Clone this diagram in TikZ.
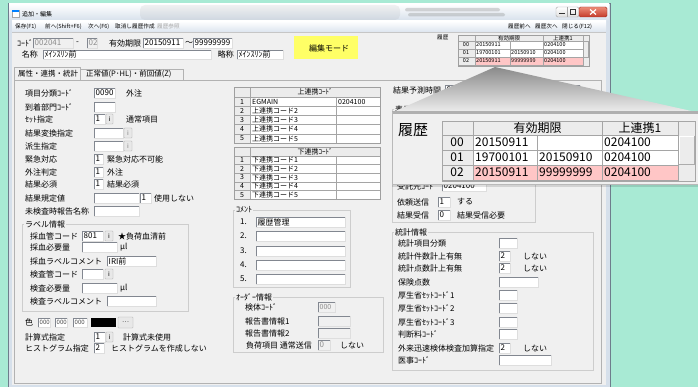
\documentclass[tikz,border=0pt]{standalone}
\usepackage{fontspec}
\setmainfont{Noto Sans CJK JP}

\definecolor{uiMint}{RGB}{168,234,212}
\definecolor{uiForm}{RGB}{240,240,240}
\definecolor{uiFrame}{RGB}{214,224,235}
\definecolor{uiFrameLine}{RGB}{110,125,140}
\definecolor{uiFDark}{RGB}{130,135,144}
\definecolor{uiFLight}{RGB}{222,222,222}
\definecolor{uiGrp}{RGB}{205,205,205}
\definecolor{uiGridC}{RGB}{165,165,165}
\definecolor{uiHdr}{RGB}{236,236,236}
\definecolor{uiPink}{RGB}{255,198,198}
\definecolor{uiYel}{RGB}{255,255,102}
\definecolor{uiDis}{RGB}{140,140,140}
\definecolor{uiBtn}{RGB}{232,232,232}
\definecolor{uiCloseTop}{RGB}{236,140,120}
\definecolor{uiCloseBot}{RGB}{196,58,42}
\definecolor{uiBeamTop}{RGB}{138,138,138}
\definecolor{uiBeamBot}{RGB}{238,238,238}

\newcount\uicnt
\tikzset{
  lbl/.style={anchor=west, inner sep=0pt, font=\fontsize{8}{9}\selectfont},
  lble/.style={anchor=east, inner sep=0pt, font=\fontsize{8}{9}\selectfont},
  menut/.style={anchor=west, inner sep=0pt, font=\fontsize{5.6}{6}\selectfont},
  ftxt/.style={anchor=west, inner sep=0pt, font=\fontsize{8}{9}\selectfont},
  ttxt/.style={inner sep=0pt, font=\fontsize{7}{8}\selectfont},
  stxt/.style={inner sep=0pt, font=\fontsize{5.5}{6}\selectfont},
  btxt/.style={inner sep=0pt, font=\fontsize{12}{13}\selectfont},
  fdark/.style={draw=uiFDark, line width=0.6pt},
  flight/.style={draw=uiFLight, line width=0.6pt},
  btn/.style={draw=gray!65, fill=uiBtn, inner sep=0pt, rounded corners=0.6pt, font=\fontsize{6.5}{7}\selectfont},
  grp/.style={draw=uiGrp, line width=0.6pt},
  grptitle/.style={anchor=west, fill=uiForm, inner xsep=1pt, inner ysep=0pt, font=\fontsize{8}{9}\selectfont},
  gridl/.style={draw=uiGridC, line width=0.5pt},
}
\newcommand\uiL[4][lbl]{\global\advance\uicnt by 1\relax
  \node[#1] (n\the\uicnt) at (#2,#3) {#4};}
\newcommand\uiF[6][]{%
  \fill[white] (#2,#3) rectangle (#4,#5);
  \draw[fdark] (#2,#5) -- (#2,#3) -- (#4,#3);
  \draw[flight] (#4,#3) -- (#4,#5) -- (#2,#5);
  \global\advance\uicnt by 1\relax
  \node[ftxt,#1] (n\the\uicnt) at ({#2+1.5},{(#3+#5)/2}) {#6};}
\newcommand\uiD[6][]{%
  \fill[uiForm] (#2,#3) rectangle (#4,#5);
  \draw[fdark] (#2,#5) -- (#2,#3) -- (#4,#3);
  \draw[flight] (#4,#3) -- (#4,#5) -- (#2,#5);
  \global\advance\uicnt by 1\relax
  \node[ftxt,text=uiDis,#1] (n\the\uicnt) at ({#2+1.5},{(#3+#5)/2}) {#6};}
\newcommand\uiB[5]{\global\advance\uicnt by 1\relax
  \node[btn, minimum width=#3-#1, minimum height=#4-#2] (n\the\uicnt) at ({(#1+#3)/2},{(#2+#4)/2}) {#5};}
\newcommand\uiG[5]{%
  \draw[grp] (#1,#2) rectangle (#3,#4);
  \global\advance\uicnt by 1\relax
  \node[grptitle] (n\the\uicnt) at ({#1+2},#2) {#5};}

\begin{document}
\begin{tikzpicture}[x=1pt,y=-1pt]
\useasboundingbox (0,0) rectangle (698,387);
\clip (0,0) rectangle (698,387);
\fill[uiMint] (0,0) rectangle (698,387);

% window frame
\fill[uiFrame] (8,3) rectangle (610,389);
\draw[uiFrameLine, line width=0.8pt] (8,3) rectangle (610,389);
\shade[top color=white, bottom color=uiFrame] (9,4) rectangle (609,21);
\fill[gray, opacity=0.10, rounded corners=5pt] (140,5) rectangle (400,20);
\fill[gray, opacity=0.30, rounded corners=2pt] (405,8) rectangle (500,11.5);
\fill[gray, opacity=0.30, rounded corners=2pt] (408,13) rectangle (505,16.5);
% icon + title
\fill[white, draw=gray!70, line width=0.4pt] (12,10) rectangle (19,17);
\fill[blue!50!cyan] (12,10) rectangle (19,12);
\node[anchor=west, inner sep=0pt, font=\fontsize{6}{6}\selectfont] (title) at (22,14) {追加・編集};
% window buttons
\shade[top color=white, bottom color=gray!25, draw=gray!70, line width=0.4pt, rounded corners=1.5pt] (556,7) rectangle (579,17);
\draw[gray!70, line width=0.4pt] (567.5,7) -- (567.5,17);
\draw[gray!40!black, line width=1pt] (559,14) -- (565,14);
\draw[gray!40!black, line width=0.6pt] (570,9.5) rectangle (575.5,14.5);
\shade[top color=uiCloseTop, bottom color=uiCloseBot, draw=uiCloseBot!80!black, line width=0.4pt, rounded corners=1.5pt] (579,7) rectangle (607,17);
\draw[white, line width=1.2pt] (590,9.5) -- (596,14.5) (590,14.5) -- (596,9.5);

% menu bar
\shade[top color=white, bottom color={rgb,255:red,221;green,229;blue,239}] (12,21) rectangle (606,32);
\uiL[menut]{15}{26.5}{保存(F1)}
\uiL[menut]{45}{26.5}{前へ(Shift+F6)}
\uiL[menut]{88}{26.5}{次へ(F6)}
\uiL[menut]{115}{26.5}{取消し}
\uiL[menut]{132}{26.5}{履歴作成}
\uiL[menut,text=gray!70]{157}{26.5}{履歴参照}
\uiL[menut]{508}{26.5}{履歴前へ}
\uiL[menut]{535}{26.5}{履歴次へ}
\uiL[menut]{562}{26.5}{閉じる(F12)}

% client area
\fill[uiForm] (12,32) rectangle (606,385);
\draw[gray!45, line width=0.5pt] (12,32) -- (606,32);

% top row
\uiL{17}{43}{ｺｰﾄﾞ}
\uiD{33}{38}{73}{48}{002041}
\uiL{76}{43}{-}
\uiD{87}{38}{97}{48}{02}
\uiL{109}{43}{有効期限}
\uiF{143}{38}{183}{48}{20150911}
\uiL{185}{43}{～}
\uiF{193}{38}{232}{48}{99999999}
\uiL[lble]{38}{54.5}{名称}
\uiF{43}{50}{211}{59}{ﾒｲﾝｽﾘﾝ前}
\uiL[lble]{234}{54.5}{略称}
\uiF{237}{50}{283}{59}{ﾒｲﾝｽﾘﾝ前}
\fill[uiYel] (294,36) rectangle (358,59);
\node[inner sep=0pt, font=\fontsize{8}{9}\selectfont] (mode) at (329,48) {編集モード};

% small history table
\uiL[menut]{437}{37.5}{履歴}
\fill[uiHdr] (458,35) rectangle (589,66);
\fill[white] (475,41) rectangle (583,57);
\fill[uiPink] (475,57) rectangle (583,65);
\foreach \yy in {41,49,57,65} \draw[gridl] (458,\yy) -- (583,\yy);
\draw[gridl] (475,35) -- (475,65) (510,41) -- (510,65) (543,35) -- (543,65) (583,35) -- (583,66);
\draw[gray!70, fill=uiHdr, line width=0.4pt] (583.5,41) rectangle (588.5,57);
\draw[gray!75, line width=0.5pt] (458,35) rectangle (589,66);
\node[stxt] (sh1) at (509,38) {有効期限};
\node[stxt] (sh2) at (563,38) {上連携1};
\foreach \r/\a/\b/\c [count=\k] in {00/20150911//0204100, 01/19700101/20150910/0204100, 02/20150911/99999999/0204100} {
  \node[stxt] (si\k) at (466,{41+(\k-0.5)*8}) {\r};
  \node[stxt, anchor=west] (sa\k) at (476,{41+(\k-0.5)*8}) {\a};
  \node[stxt, anchor=west] (sb\k) at (511,{41+(\k-0.5)*8}) {\b};
  \node[stxt, anchor=west] (sc\k) at (544,{41+(\k-0.5)*8}) {\c};
}

% tab control
\draw[gray!60, line width=0.5pt] (14,80) rectangle (601,383);
\draw[gray!60, line width=0.5pt] (14,80) -- (14,67) -- (80,67) -- (80,80);
\draw[gray!60, line width=0.5pt] (80,69) -- (183,69) -- (183,80);
\draw[uiForm, line width=1pt] (14.6,80) -- (79.4,80);
\uiL[lbl,font=\fontsize{7.5}{8}\selectfont]{18}{74}{属性・連携・統計}
\uiL[lbl,font=\fontsize{7.5}{8}\selectfont]{86}{74.5}{正常値(P･HL)・前回値(Z)}

% left column
\uiL{25}{93}{項目分類ｺｰﾄﾞ} \uiF{94}{88}{115}{98}{0090} \uiL{126}{93}{外注}
\uiL{25}{107}{到着部門ｺｰﾄﾞ} \uiF{94}{102}{115}{112}{}
\uiL{25}{119}{ｾｯﾄ指定} \uiF{94}{114}{105}{124}{1} \uiB{106}{114}{113}{124}{i} \uiL{126}{119}{通常項目}
\uiL{25}{133}{結果変換指定} \uiF{94}{128}{123}{138}{} \uiB{124}{128}{132}{138}{\textcolor{gray}{i}}
\uiL{25}{146}{派生指定} \uiF{94}{141}{123}{151}{} \uiB{124}{141}{132}{151}{\textcolor{gray}{i}}
\uiL{25}{159}{緊急対応} \uiF{94}{154}{103}{164}{1} \uiL{107}{159}{緊急対応不可能}
\uiL{25}{172}{外注判定} \uiF{94}{167}{103}{177}{1} \uiL{107}{172}{外注}
\uiL{25}{184}{結果必須} \uiF{94}{179}{103}{189}{1} \uiL{107}{184}{結果必須}
\uiL{25}{198}{結果規定値} \uiF{94}{193}{139}{203}{} \uiF{140}{193}{151}{203}{1} \uiL{154}{198}{使用しない}
\uiL{25}{211}{未検査時報告名称} \uiF{94}{206}{139}{216}{}

\uiG{22}{224}{188}{311}{ラベル情報}
\uiL{30}{236}{採血管コード} \uiF{82}{231}{103}{241}{801} \uiB{105}{231}{113}{241}{i} \uiL{118}{236}{★負荷血清前}
\uiL{30}{247}{採血必要量} \uiF{82}{242}{117}{252}{} \uiL{120}{247}{μl}
\uiL{30}{261}{採血ラベルコメント} \uiF{107}{256}{156}{266}{IRI前}
\uiL{30}{274}{検査管コード} \uiF{82}{269}{103}{279}{} \uiB{105}{269}{113}{279}{i}
\uiL{30}{288}{検査必要量} \uiF{82}{283}{117}{293}{} \uiL{120}{288}{μl}
\uiL{30}{301}{検査ラベルコメント} \uiF{107}{296}{156}{306}{}

\uiL{25}{322}{色}
\uiF[font=\fontsize{6}{6}\selectfont,text=gray!60!black]{38}{318}{50}{327}{000}
\uiF[font=\fontsize{6}{6}\selectfont,text=gray!60!black]{55}{318}{67}{327}{000}
\uiF[font=\fontsize{6}{6}\selectfont,text=gray!60!black]{73}{318}{87}{327}{000}
\fill[black] (91,318) rectangle (116,327);
\uiB{118}{317}{133}{328}{…}
\uiL{25}{337}{計算式指定} \uiF{94}{332}{105}{342}{1} \uiB{106}{332}{113}{342}{i} \uiL{123}{337}{計算式未使用}
\uiL{25}{348}{ヒストグラム指定} \uiF{94}{343}{104}{353}{2} \uiL{111}{348}{ヒストグラムを作成しない}

% upper link table
\fill[white] (234,87) rectangle (380,143);
\fill[uiHdr] (234,87) rectangle (380,97);
\fill[uiHdr] (234,97) rectangle (250,143);
\foreach \yy in {97,106.2,115.4,124.6,133.8} \draw[gridl] (234,\yy) -- (380,\yy);
\draw[gridl] (250,87) -- (250,143) (336,97) -- (336,143);
\draw[gray!75, line width=0.5pt] (234,87) rectangle (380,143);
\node[ttxt] (uph) at (315,92) {上連携ｺｰﾄﾞ};
\foreach \t [count=\i] in {EGMAIN,上連携コード2,上連携コード3,上連携コード4,上連携コード5} {
  \node[ttxt] (upi\i) at (242,{97+(\i-0.5)*9.2}) {\i};
  \node[ttxt, anchor=west] (upc\i) at (252,{97+(\i-0.5)*9.2}) {\t};
}
\node[ttxt, anchor=west] (upv1) at (338,101.6) {0204100};

% lower link table
\fill[white] (234,147) rectangle (380,199);
\fill[uiHdr] (234,147) rectangle (380,156);
\fill[uiHdr] (234,156) rectangle (250,199);
\foreach \yy in {156,164.6,173.2,181.8,190.4} \draw[gridl] (234,\yy) -- (380,\yy);
\draw[gridl] (250,147) -- (250,199) (336,156) -- (336,199);
\draw[gray!75, line width=0.5pt] (234,147) rectangle (380,199);
\node[ttxt] (loh) at (315,151.5) {下連携ｺｰﾄﾞ};
\foreach \t [count=\i] in {下連携コード1,下連携コード2,下連携コード3,下連携コード4,下連携コード5} {
  \node[ttxt] (loi\i) at (242,{156+(\i-0.5)*8.6}) {\i};
  \node[ttxt, anchor=west] (loc\i) at (252,{156+(\i-0.5)*8.6}) {\t};
}

% comment group
\uiG{233}{210}{350}{287}{ｺﾒﾝﾄ}
\uiL{240}{222}{1.} \uiF{256}{217}{345}{227}{履歴管理}
\uiL{240}{236}{2.} \uiF{256}{231}{345}{241}{}
\uiL{240}{251}{3.} \uiF{256}{246}{345}{256}{}
\uiL{240}{265}{4.} \uiF{256}{260}{345}{270}{}
\uiL{240}{279}{5.} \uiF{256}{274}{345}{284}{}

% order group
\uiG{233}{297}{383}{352}{ｵｰﾀﾞｰ情報}
\uiL{245}{307}{検体ｺｰﾄﾞ} \uiD[font=\fontsize{7}{7}\selectfont]{318}{302}{335}{312}{000}
\uiL{245}{321}{報告書情報1} \uiD{318}{316}{350}{326}{}
\uiL{245}{333}{報告書情報2} \uiD{318}{328}{350}{338}{}
\uiL{246}{345}{負荷項目\ 通常送信} \uiD{318}{340}{330}{350}{0} \uiL{340}{345}{しない}

% right column
\uiL{393}{90}{結果予測時間} \uiF{445}{85}{580}{95}{0}
\uiG{392}{109}{535}{222}{表示}
\uiL{397}{186}{受託先ｺｰﾄﾞ} \uiF{442}{181}{486}{191}{0204100}
\uiL{397}{202}{依頼送信} \uiF{438}{197}{450}{207}{1} \uiL{457}{202}{する}
\uiL{397}{215}{結果受信} \uiF{438}{210}{450}{220}{0} \uiL{457}{215}{結果受信必要}

\uiG{392}{232}{593}{370}{統計情報}
\uiL{398}{243}{統計項目分類} \uiF{499}{238}{517}{248}{}
\uiL{398}{256}{統計件数計上有無} \uiF{499}{251}{510}{261}{2} \uiL{523}{256}{しない}
\uiL{398}{268}{統計点数計上有無} \uiF{499}{263}{510}{273}{2} \uiL{523}{268}{しない}
\uiL{398}{282}{保険点数} \uiF{499}{277}{538}{287}{}
\uiL{398}{295}{厚生省ｾｯﾄｺｰﾄﾞ1} \uiF{499}{290}{517}{300}{}
\uiL{398}{308}{厚生省ｾｯﾄｺｰﾄﾞ2} \uiF{499}{303}{517}{313}{}
\uiL{398}{322}{厚生省ｾｯﾄｺｰﾄﾞ3} \uiF{499}{317}{517}{327}{}
\uiL{398}{334}{判断料ｺｰﾄﾞ} \uiF{499}{329}{517}{339}{}
\uiL{398}{348}{外来迅速検体検査加算指定} \uiF{499}{343}{510}{353}{2} \uiL{523}{348}{しない}
\uiL{398}{360}{医事ｺｰﾄﾞ} \uiF{499}{355}{551}{365}{}

% magnifier beam
\shade[top color=uiBeamTop, bottom color=uiBeamBot] (495,67) -- (392,112.5) -- (698,112.5) -- cycle;

% callout
\fill[black, opacity=0.12] (392,184) rectangle (698,187);
\fill[uiForm] (392,112) rectangle (698,184);
\fill[gray!62] (392,111.5) rectangle (698,114);
\draw[gray!55, line width=0.5pt] (392,112) -- (392,184) -- (698,184);
\node[inner sep=0pt, font=\fontsize{15}{16}\selectfont] (bigh) at (413,130) {履歴};
\fill[uiHdr] (442,121) rectangle (695,181);
\fill[white] (473,135) rectangle (678,165);
\fill[uiPink] (473,165) rectangle (678,180);
\foreach \yy in {135,150,165,180} \draw[gridl] (442,\yy) -- (678,\yy);
\draw[gridl] (473,121) -- (473,180) (537,135) -- (537,180) (602,121) -- (602,180) (678,121) -- (678,181);
\fill[uiHdr] (678.6,135.5) rectangle (694.4,164.5);
\draw[white, line width=0.6pt] (679,164) -- (679,136) -- (694,136);
\draw[gray!65, line width=0.6pt] (694,136) -- (694,164) -- (679,164);
\draw[gray!70, line width=0.6pt] (442,121) rectangle (695,181);
\node[btxt] (bh1) at (537.5,128) {有効期限};
\node[btxt] (bh2) at (640,128) {上連携1};
\foreach \r/\a/\b/\c [count=\k] in {00/20150911//0204100, 01/19700101/20150910/0204100, 02/20150911/99999999/0204100} {
  \node[btxt] (bi\k) at (457,{135+(\k-0.5)*15}) {\r};
  \node[btxt, anchor=west] (ba\k) at (475,{135+(\k-0.5)*15}) {\a};
  \node[btxt, anchor=west] (bb\k) at (539,{135+(\k-0.5)*15}) {\b};
  \node[btxt, anchor=west] (bc\k) at (604,{135+(\k-0.5)*15}) {\c};
}
\end{tikzpicture}
\end{document}
